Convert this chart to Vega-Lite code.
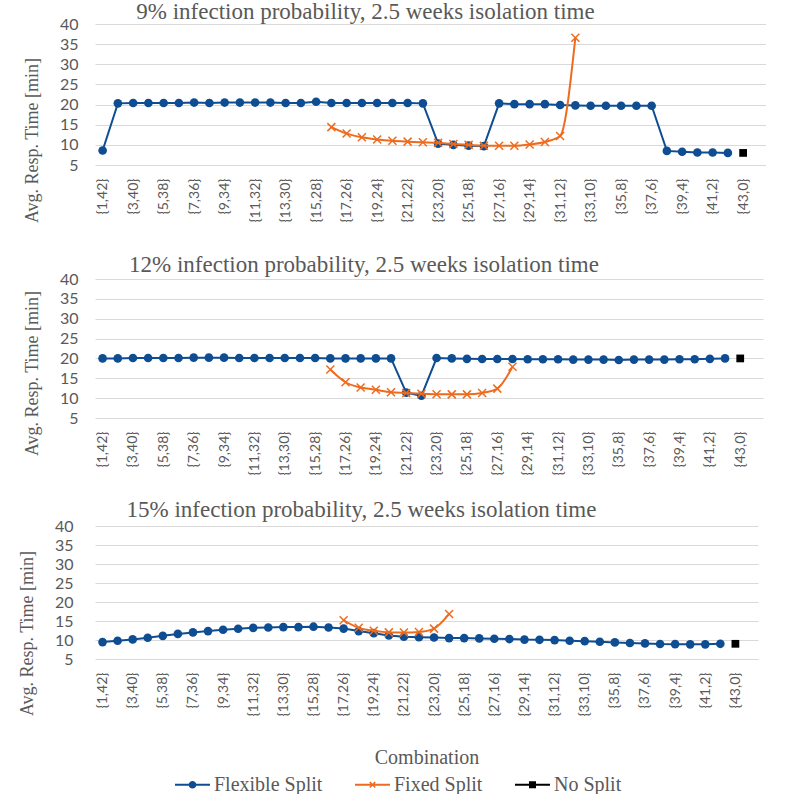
{
"$schema": "https://vega.github.io/schema/vega-lite/v6.json",
"padding": {"left": 17, "top": 1, "right": 0, "bottom": 0},
"spacing": 31,
"config": {
  "view": {"stroke": null},
  "title": {"font": "Liberation Serif", "fontSize": 23, "fontWeight": "normal", "color": "#595959", "anchor": "middle", "dx": -65},
  "axisX": {"labelAngle": -90, "labelFont": "Lato", "labelFontSize": 14, "labelColor": "#595959", "ticks": false, "domain": false, "grid": false, "labelPadding": 13, "titleFont": "Liberation Serif", "titleFontSize": 20, "titleFontWeight": "normal", "titleColor": "#595959", "titlePadding": 31},
  "axisY": {"labelFont": "Lato", "labelFontSize": 16, "labelColor": "#595959", "ticks": false, "domain": false, "grid": true, "gridColor": "#d9d9d9", "gridWidth": 1.2, "labelPadding": 17, "titleFont": "Liberation Serif", "titleFontSize": 18, "titleFontWeight": "normal", "titleColor": "#595959"},
  "legend": {"labelFont": "Liberation Serif", "labelFontSize": 20, "labelColor": "#595959"}
},
"datasets": {
  "p9": [
    {"c":"{1,42}","s":"Flexible Split","v":8.6},{"c":"{2,41}","s":"Flexible Split","v":20.3},{"c":"{3,40}","s":"Flexible Split","v":20.4},{"c":"{4,39}","s":"Flexible Split","v":20.4},{"c":"{5,38}","s":"Flexible Split","v":20.4},{"c":"{6,37}","s":"Flexible Split","v":20.4},{"c":"{7,36}","s":"Flexible Split","v":20.5},{"c":"{8,35}","s":"Flexible Split","v":20.4},{"c":"{9,34}","s":"Flexible Split","v":20.5},{"c":"{10,33}","s":"Flexible Split","v":20.5},{"c":"{11,32}","s":"Flexible Split","v":20.5},{"c":"{12,31}","s":"Flexible Split","v":20.5},{"c":"{13,30}","s":"Flexible Split","v":20.4},{"c":"{14,29}","s":"Flexible Split","v":20.4},{"c":"{15,28}","s":"Flexible Split","v":20.7},{"c":"{16,27}","s":"Flexible Split","v":20.4},{"c":"{17,26}","s":"Flexible Split","v":20.4},{"c":"{18,25}","s":"Flexible Split","v":20.4},{"c":"{19,24}","s":"Flexible Split","v":20.4},{"c":"{20,23}","s":"Flexible Split","v":20.4},{"c":"{21,22}","s":"Flexible Split","v":20.4},{"c":"{22,21}","s":"Flexible Split","v":20.3},{"c":"{23,20}","s":"Flexible Split","v":10.3},{"c":"{24,19}","s":"Flexible Split","v":10.0},{"c":"{25,18}","s":"Flexible Split","v":9.8},{"c":"{26,17}","s":"Flexible Split","v":9.7},{"c":"{27,16}","s":"Flexible Split","v":20.3},{"c":"{28,15}","s":"Flexible Split","v":20.1},{"c":"{29,14}","s":"Flexible Split","v":20.1},{"c":"{30,13}","s":"Flexible Split","v":20.1},{"c":"{31,12}","s":"Flexible Split","v":19.9},{"c":"{32,11}","s":"Flexible Split","v":19.8},{"c":"{33,10}","s":"Flexible Split","v":19.7},{"c":"{34,9}","s":"Flexible Split","v":19.7},{"c":"{35,8}","s":"Flexible Split","v":19.7},{"c":"{36,7}","s":"Flexible Split","v":19.7},{"c":"{37,6}","s":"Flexible Split","v":19.7},{"c":"{38,5}","s":"Flexible Split","v":8.5},{"c":"{39,4}","s":"Flexible Split","v":8.3},{"c":"{40,3}","s":"Flexible Split","v":8.1},{"c":"{41,2}","s":"Flexible Split","v":8.1},{"c":"{42,1}","s":"Flexible Split","v":8.0},
    {"c":"{16,27}","s":"Fixed Split","v":14.4},{"c":"{17,26}","s":"Fixed Split","v":12.8},{"c":"{18,25}","s":"Fixed Split","v":11.9},{"c":"{19,24}","s":"Fixed Split","v":11.35},{"c":"{20,23}","s":"Fixed Split","v":11.0},{"c":"{21,22}","s":"Fixed Split","v":10.8},{"c":"{22,21}","s":"Fixed Split","v":10.65},{"c":"{23,20}","s":"Fixed Split","v":10.5},{"c":"{24,19}","s":"Fixed Split","v":10.2},{"c":"{25,18}","s":"Fixed Split","v":10.0},{"c":"{26,17}","s":"Fixed Split","v":9.8},{"c":"{27,16}","s":"Fixed Split","v":9.8},{"c":"{28,15}","s":"Fixed Split","v":9.8},{"c":"{29,14}","s":"Fixed Split","v":10.1},{"c":"{30,13}","s":"Fixed Split","v":10.7},{"c":"{31,12}","s":"Fixed Split","v":12.2},{"c":"{32,11}","s":"Fixed Split","v":36.6},
    {"c":"{43,0}","s":"No Split","v":8.0}
  ],
  "p12": [
    {"c":"{1,42}","s":"Flexible Split","v":20.0},{"c":"{2,41}","s":"Flexible Split","v":20.0},{"c":"{3,40}","s":"Flexible Split","v":20.1},{"c":"{4,39}","s":"Flexible Split","v":20.1},{"c":"{5,38}","s":"Flexible Split","v":20.1},{"c":"{6,37}","s":"Flexible Split","v":20.1},{"c":"{7,36}","s":"Flexible Split","v":20.2},{"c":"{8,35}","s":"Flexible Split","v":20.2},{"c":"{9,34}","s":"Flexible Split","v":20.2},{"c":"{10,33}","s":"Flexible Split","v":20.1},{"c":"{11,32}","s":"Flexible Split","v":20.1},{"c":"{12,31}","s":"Flexible Split","v":20.1},{"c":"{13,30}","s":"Flexible Split","v":20.1},{"c":"{14,29}","s":"Flexible Split","v":20.1},{"c":"{15,28}","s":"Flexible Split","v":20.1},{"c":"{16,27}","s":"Flexible Split","v":20.0},{"c":"{17,26}","s":"Flexible Split","v":20.0},{"c":"{18,25}","s":"Flexible Split","v":20.0},{"c":"{19,24}","s":"Flexible Split","v":20.0},{"c":"{20,23}","s":"Flexible Split","v":20.0},{"c":"{21,22}","s":"Flexible Split","v":11.4},{"c":"{22,21}","s":"Flexible Split","v":10.6},{"c":"{23,20}","s":"Flexible Split","v":20.1},{"c":"{24,19}","s":"Flexible Split","v":20.0},{"c":"{25,18}","s":"Flexible Split","v":19.9},{"c":"{26,17}","s":"Flexible Split","v":19.85},{"c":"{27,16}","s":"Flexible Split","v":19.85},{"c":"{28,15}","s":"Flexible Split","v":19.85},{"c":"{29,14}","s":"Flexible Split","v":19.8},{"c":"{30,13}","s":"Flexible Split","v":19.8},{"c":"{31,12}","s":"Flexible Split","v":19.8},{"c":"{32,11}","s":"Flexible Split","v":19.7},{"c":"{33,10}","s":"Flexible Split","v":19.7},{"c":"{34,9}","s":"Flexible Split","v":19.7},{"c":"{35,8}","s":"Flexible Split","v":19.6},{"c":"{36,7}","s":"Flexible Split","v":19.7},{"c":"{37,6}","s":"Flexible Split","v":19.7},{"c":"{38,5}","s":"Flexible Split","v":19.7},{"c":"{39,4}","s":"Flexible Split","v":19.8},{"c":"{40,3}","s":"Flexible Split","v":19.8},{"c":"{41,2}","s":"Flexible Split","v":19.9},{"c":"{42,1}","s":"Flexible Split","v":20.0},
    {"c":"{16,27}","s":"Fixed Split","v":17.2},{"c":"{17,26}","s":"Fixed Split","v":14.0},{"c":"{18,25}","s":"Fixed Split","v":12.7},{"c":"{19,24}","s":"Fixed Split","v":12.1},{"c":"{20,23}","s":"Fixed Split","v":11.5},{"c":"{21,22}","s":"Fixed Split","v":11.3},{"c":"{22,21}","s":"Fixed Split","v":11.1},{"c":"{23,20}","s":"Fixed Split","v":11.0},{"c":"{24,19}","s":"Fixed Split","v":10.95},{"c":"{25,18}","s":"Fixed Split","v":10.95},{"c":"{26,17}","s":"Fixed Split","v":11.3},{"c":"{27,16}","s":"Fixed Split","v":12.4},{"c":"{28,15}","s":"Fixed Split","v":17.9},
    {"c":"{43,0}","s":"No Split","v":20.0}
  ],
  "p15": [
    {"c":"{1,42}","s":"Flexible Split","v":9.45},{"c":"{2,41}","s":"Flexible Split","v":9.8},{"c":"{3,40}","s":"Flexible Split","v":10.15},{"c":"{4,39}","s":"Flexible Split","v":10.6},{"c":"{5,38}","s":"Flexible Split","v":11.1},{"c":"{6,37}","s":"Flexible Split","v":11.6},{"c":"{7,36}","s":"Flexible Split","v":12.0},{"c":"{8,35}","s":"Flexible Split","v":12.35},{"c":"{9,34}","s":"Flexible Split","v":12.7},{"c":"{10,33}","s":"Flexible Split","v":12.95},{"c":"{11,32}","s":"Flexible Split","v":13.2},{"c":"{12,31}","s":"Flexible Split","v":13.3},{"c":"{13,30}","s":"Flexible Split","v":13.4},{"c":"{14,29}","s":"Flexible Split","v":13.4},{"c":"{15,28}","s":"Flexible Split","v":13.5},{"c":"{16,27}","s":"Flexible Split","v":13.3},{"c":"{17,26}","s":"Flexible Split","v":13.0},{"c":"{18,25}","s":"Flexible Split","v":12.35},{"c":"{19,24}","s":"Flexible Split","v":11.8},{"c":"{20,23}","s":"Flexible Split","v":11.2},{"c":"{21,22}","s":"Flexible Split","v":10.85},{"c":"{22,21}","s":"Flexible Split","v":10.75},{"c":"{23,20}","s":"Flexible Split","v":10.65},{"c":"{24,19}","s":"Flexible Split","v":10.5},{"c":"{25,18}","s":"Flexible Split","v":10.5},{"c":"{26,17}","s":"Flexible Split","v":10.42},{"c":"{27,16}","s":"Flexible Split","v":10.34},{"c":"{28,15}","s":"Flexible Split","v":10.25},{"c":"{29,14}","s":"Flexible Split","v":10.1},{"c":"{30,13}","s":"Flexible Split","v":10.05},{"c":"{31,12}","s":"Flexible Split","v":9.98},{"c":"{32,11}","s":"Flexible Split","v":9.8},{"c":"{33,10}","s":"Flexible Split","v":9.7},{"c":"{34,9}","s":"Flexible Split","v":9.55},{"c":"{35,8}","s":"Flexible Split","v":9.37},{"c":"{36,7}","s":"Flexible Split","v":9.2},{"c":"{37,6}","s":"Flexible Split","v":9.1},{"c":"{38,5}","s":"Flexible Split","v":8.95},{"c":"{39,4}","s":"Flexible Split","v":8.9},{"c":"{40,3}","s":"Flexible Split","v":8.85},{"c":"{41,2}","s":"Flexible Split","v":8.85},{"c":"{42,1}","s":"Flexible Split","v":9.0},
    {"c":"{17,26}","s":"Fixed Split","v":15.2},{"c":"{18,25}","s":"Fixed Split","v":13.2},{"c":"{19,24}","s":"Fixed Split","v":12.45},{"c":"{20,23}","s":"Fixed Split","v":12.0},{"c":"{21,22}","s":"Fixed Split","v":11.95},{"c":"{22,21}","s":"Fixed Split","v":12.1},{"c":"{23,20}","s":"Fixed Split","v":13.0},{"c":"{24,19}","s":"Fixed Split","v":16.85},
    {"c":"{43,0}","s":"No Split","v":9.0}
  ]
},
"vconcat": [
  {
    "width": 671, "height": 141,
    "title": {"text": "9% infection probability, 2.5 weeks isolation time", "offset": -8},
    "data": {"name": "p9"},
    "encoding": {
      "x": {"field": "c", "type": "ordinal", "scale": {"type": "point", "padding": 1, "align": 0.25, "domain": ["{1,42}","{2,41}","{3,40}","{4,39}","{5,38}","{6,37}","{7,36}","{8,35}","{9,34}","{10,33}","{11,32}","{12,31}","{13,30}","{14,29}","{15,28}","{16,27}","{17,26}","{18,25}","{19,24}","{20,23}","{21,22}","{22,21}","{23,20}","{24,19}","{25,18}","{26,17}","{27,16}","{28,15}","{29,14}","{30,13}","{31,12}","{32,11}","{33,10}","{34,9}","{35,8}","{36,7}","{37,6}","{38,5}","{39,4}","{40,3}","{41,2}","{42,1}","{43,0}"]}, "axis": {"title": null, "values": ["{1,42}","{3,40}","{5,38}","{7,36}","{9,34}","{11,32}","{13,30}","{15,28}","{17,26}","{19,24}","{21,22}","{23,20}","{25,18}","{27,16}","{29,14}","{31,12}","{33,10}","{35,8}","{37,6}","{39,4}","{41,2}","{43,0}"]}},
      "y": {"field": "v", "type": "quantitative", "scale": {"domain": [5, 40]}, "axis": {"title": "Avg. Resp. Time [min]", "values": [5,10,15,20,25,30,35,40], "titleX": -54, "titleY": 116}}
    },
    "layer": [
      {"transform": [{"filter": "datum.s == 'Flexible Split'"}], "mark": {"type": "line", "color": "#0e4d92", "strokeWidth": 2}},
      {"transform": [{"filter": "datum.s == 'Flexible Split'"}], "mark": {"type": "point", "shape": "circle", "filled": true, "size": 75, "opacity": 1, "color": "#0e4d92"}},
      {"transform": [{"filter": "datum.s == 'Fixed Split'"}], "mark": {"type": "line", "color": "#ee6b1e", "strokeWidth": 2, "interpolate": "monotone"}},
      {"transform": [{"filter": "datum.s == 'Fixed Split'"}], "mark": {"type": "point", "shape": "M-1,-1L1,1M-1,1L1,-1", "filled": false, "size": 64, "strokeWidth": 1.5, "opacity": 1, "color": "#ee6b1e"}},
      {"transform": [{"filter": "datum.s == 'No Split'"}], "mark": {"type": "point", "shape": "square", "filled": true, "size": 60, "opacity": 1, "color": "#000000"}},
      {"transform": [{"filter": "false"}], "mark": {"type": "point", "filled": true, "opacity": 1},
       "encoding": {
         "color": {"field": "s", "type": "nominal", "scale": {"domain": ["Flexible Split", "Fixed Split", "No Split"], "range": ["#0e4d92", "#ee6b1e", "#000000"]},
           "legend": {"title": null, "orient": "none", "direction": "horizontal", "legendX": 80, "legendY": 743, "symbolSize": 1225, "symbolStrokeWidth": 0, "symbolOpacity": 1, "labelOffset": 4, "columnPadding": 32}},
         "shape": {"field": "s", "type": "nominal", "scale": {"domain": ["Flexible Split", "Fixed Split", "No Split"], "range": ["M-1,-0.06V0.06H1V-0.06ZM-0.22,0A0.22,0.22,0,1,0,0.22,0A0.22,0.22,0,1,0,-0.22,0", "M-1,-0.06V0.06H1V-0.06ZM0.1238,0.1874L0.1874,0.1238L-0.1238,-0.1874L-0.1874,-0.1238ZM0.1874,-0.1238L0.1238,-0.1874L-0.1874,0.1238L-0.1238,0.1874Z", "M-1,-0.06V0.06H1V-0.06ZM-0.2,-0.2V0.2H0.2V-0.2Z"]},
           "legend": {"title": null, "orient": "none", "direction": "horizontal", "legendX": 80, "legendY": 743, "symbolSize": 1225, "symbolStrokeWidth": 0, "symbolOpacity": 1, "labelOffset": 4, "columnPadding": 32}}
       }}
    ]
  },
  {
    "spacing": 23,
    "vconcat": [
  {
    "width": 668, "height": 139,
    "title": {"text": "12% infection probability, 2.5 weeks isolation time", "offset": -6},
    "data": {"name": "p12"},
    "encoding": {
      "x": {"field": "c", "type": "ordinal", "scale": {"type": "point", "padding": 1, "align": 0.25, "domain": ["{1,42}","{2,41}","{3,40}","{4,39}","{5,38}","{6,37}","{7,36}","{8,35}","{9,34}","{10,33}","{11,32}","{12,31}","{13,30}","{14,29}","{15,28}","{16,27}","{17,26}","{18,25}","{19,24}","{20,23}","{21,22}","{22,21}","{23,20}","{24,19}","{25,18}","{26,17}","{27,16}","{28,15}","{29,14}","{30,13}","{31,12}","{32,11}","{33,10}","{34,9}","{35,8}","{36,7}","{37,6}","{38,5}","{39,4}","{40,3}","{41,2}","{42,1}","{43,0}"]}, "axis": {"title": null, "values": ["{1,42}","{3,40}","{5,38}","{7,36}","{9,34}","{11,32}","{13,30}","{15,28}","{17,26}","{19,24}","{21,22}","{23,20}","{25,18}","{27,16}","{29,14}","{31,12}","{33,10}","{35,8}","{37,6}","{39,4}","{41,2}","{43,0}"]}},
      "y": {"field": "v", "type": "quantitative", "scale": {"domain": [5, 40]}, "axis": {"title": "Avg. Resp. Time [min]", "values": [5,10,15,20,25,30,35,40], "titleX": -54, "titleY": 94}}
    },
    "layer": [
      {"transform": [{"filter": "datum.s == 'Flexible Split'"}], "mark": {"type": "line", "color": "#0e4d92", "strokeWidth": 2}},
      {"transform": [{"filter": "datum.s == 'Flexible Split'"}], "mark": {"type": "point", "shape": "circle", "filled": true, "size": 75, "opacity": 1, "color": "#0e4d92"}},
      {"transform": [{"filter": "datum.s == 'Fixed Split'"}], "mark": {"type": "line", "color": "#ee6b1e", "strokeWidth": 2, "interpolate": "monotone"}},
      {"transform": [{"filter": "datum.s == 'Fixed Split'"}], "mark": {"type": "point", "shape": "M-1,-1L1,1M-1,1L1,-1", "filled": false, "size": 64, "strokeWidth": 1.5, "opacity": 1, "color": "#ee6b1e"}},
      {"transform": [{"filter": "datum.s == 'No Split'"}], "mark": {"type": "point", "shape": "square", "filled": true, "size": 60, "opacity": 1, "color": "#000000"}}
    ]
  },
  {
    "width": 663, "height": 133,
    "title": {"text": "15% infection probability, 2.5 weeks isolation time", "offset": -4},
    "data": {"name": "p15"},
    "encoding": {
      "x": {"field": "c", "type": "ordinal", "scale": {"type": "point", "padding": 1, "align": 0.25, "domain": ["{1,42}","{2,41}","{3,40}","{4,39}","{5,38}","{6,37}","{7,36}","{8,35}","{9,34}","{10,33}","{11,32}","{12,31}","{13,30}","{14,29}","{15,28}","{16,27}","{17,26}","{18,25}","{19,24}","{20,23}","{21,22}","{22,21}","{23,20}","{24,19}","{25,18}","{26,17}","{27,16}","{28,15}","{29,14}","{30,13}","{31,12}","{32,11}","{33,10}","{34,9}","{35,8}","{36,7}","{37,6}","{38,5}","{39,4}","{40,3}","{41,2}","{42,1}","{43,0}"]}, "axis": {"title": "Combination", "values": ["{1,42}","{3,40}","{5,38}","{7,36}","{9,34}","{11,32}","{13,30}","{15,28}","{17,26}","{19,24}","{21,22}","{23,20}","{25,18}","{27,16}","{29,14}","{31,12}","{33,10}","{35,8}","{37,6}","{39,4}","{41,2}","{43,0}"]}},
      "y": {"field": "v", "type": "quantitative", "scale": {"domain": [5, 40]}, "axis": {"title": "Avg. Resp. Time [min]", "values": [5,10,15,20,25,30,35,40], "titleX": -59, "titleY": 107, "labelPadding": 22}}
    },
    "layer": [
      {"transform": [{"filter": "datum.s == 'Flexible Split'"}], "mark": {"type": "line", "color": "#0e4d92", "strokeWidth": 2}},
      {"transform": [{"filter": "datum.s == 'Flexible Split'"}], "mark": {"type": "point", "shape": "circle", "filled": true, "size": 75, "opacity": 1, "color": "#0e4d92"}},
      {"transform": [{"filter": "datum.s == 'Fixed Split'"}], "mark": {"type": "line", "color": "#ee6b1e", "strokeWidth": 2, "interpolate": "monotone"}},
      {"transform": [{"filter": "datum.s == 'Fixed Split'"}], "mark": {"type": "point", "shape": "M-1,-1L1,1M-1,1L1,-1", "filled": false, "size": 64, "strokeWidth": 1.5, "opacity": 1, "color": "#ee6b1e"}},
      {"transform": [{"filter": "datum.s == 'No Split'"}], "mark": {"type": "point", "shape": "square", "filled": true, "size": 60, "opacity": 1, "color": "#000000"}}
    ]
  }
    ]
  }
]
}
